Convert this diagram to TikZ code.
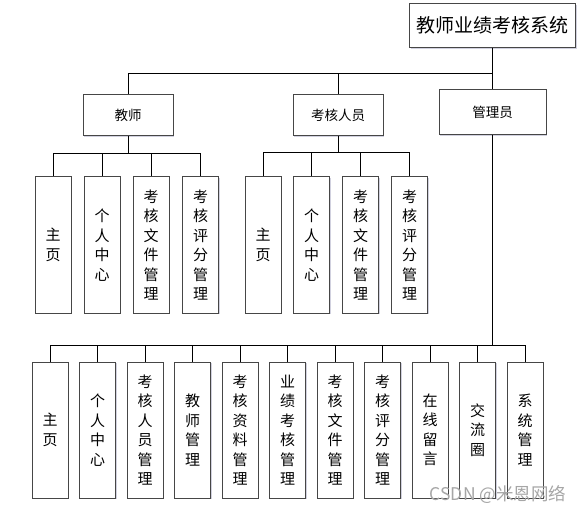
\documentclass[tikz,border=0pt]{standalone}
\usepackage{fontspec}
\setmainfont{Noto Sans CJK SC}
\usetikzlibrary{positioning,shadows}
\definecolor{edgegray}{RGB}{70,70,70}
\tikzset{
    box/.style      = {draw=edgegray, line width=1pt, fill=white, inner sep=0pt,
            align=center,
            drop shadow={shadow xshift=1.2pt, shadow yshift=-1.2pt, fill=blue!30!black, opacity=0.18}},
    topbox/.style   = {box, minimum width=166, minimum height=44,
            font=\fontsize{19}{22}\selectfont},
    rolebox/.style  = {box, minimum width=90, minimum height=41,
            font=\fontsize{13.5}{16}\selectfont},
    leafbox/.style  = {box, minimum width=36, minimum height=136,
            font=\fontsize{15}{19.5}\selectfont},
    link/.style     = {draw=black, line width=0.9pt},
}
\begin{document}
\begin{tikzpicture}[x=1pt, y=-1pt]
    \useasboundingbox (0,0) rectangle (583,513);

    % top level
    \node[topbox] (root) at (492.5,25.5) {教师业绩考核系统};

    % roles
    \node[rolebox] (teacher)  at (128,115.5) {教师};
    \node[rolebox] (assessor) at (338,115.5) {考核人员};
    \node[rolebox] (admin) [minimum width=107, minimum height=45] at (492.5,112.5) {管理员};

    \draw[link] (root.south) -- ++(0,25) -| (teacher.north);
    \draw[link] (root.south) -- ++(0,25) -| (assessor.north);
    \draw[link] (root.south) -- (admin.north);

    % teacher pages
    \foreach \i/\x/\txt in {1/53/{主\\页}, 2/102/{个\\人\\中\\心},
            3/151/{考\\核\\文\\件\\管\\理}, 4/200.5/{考\\核\\评\\分\\管\\理}} {
        \node[leafbox] (t\i) at (\x,245) {\txt};
        \draw[link] (teacher.south) -- ++(0,17) -| (t\i.north);
    }

    % assessor pages
    \foreach \i/\x/\txt in {1/263/{主\\页}, 2/311.5/{个\\人\\中\\心},
            3/360.5/{考\\核\\文\\件\\管\\理}, 4/409.5/{考\\核\\评\\分\\管\\理}} {
        \node[leafbox] (k\i) at (\x,245) {\txt};
        \draw[link] (assessor.south) -- ++(0,16) -| (k\i.north);
    }

    % admin pages
    \foreach \i/\txt in {1/{主\\页}, 2/{个\\人\\中\\心}, 3/{考\\核\\人\\员\\管\\理},
            4/{教\\师\\管\\理}, 5/{考\\核\\资\\料\\管\\理}, 6/{业\\绩\\考\\核\\管\\理},
            7/{考\\核\\文\\件\\管\\理}, 8/{考\\核\\评\\分\\管\\理}, 9/{在\\线\\留\\言},
            10/{交\\流\\圈}, 11/{系\\统\\管\\理}} {
        \node[leafbox] (a\i) at ({50+47.5*(\i-1)},430) {\txt};
        \draw[link] (admin.south) -- ++(0,210) -| (a\i.north);
    }

    % watermark
    \node[font=\fontsize{17.5}{17.5}\selectfont, text=black!35] (mark) at (498,495) {CSDN @米恩网络};
\end{tikzpicture}
\end{document}
